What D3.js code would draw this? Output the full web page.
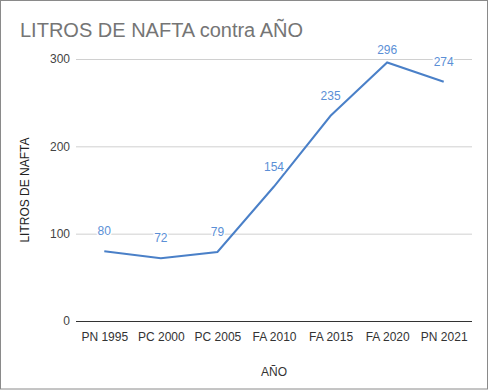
<!DOCTYPE html>
<html>
<head>
<meta charset="utf-8">
<script src="https://cdn.jsdelivr.net/npm/d3@7"></script>
<style>
  body { margin: 0; background: #fff; }
  text { font-family: Arial, "Liberation Sans", sans-serif; }
</style>
</head>
<body>
<div id="chart"></div>
<script>
// Data
var categories = ["PN 1995", "PC 2000", "PC 2005", "FA 2010", "FA 2015", "FA 2020", "PN 2021"];
var litros = [80, 72, 79, 154, 235, 296, 274];
var yTicks = [0, 100, 200, 300];

var W = 490, H = 391;
var margin = {top: 59, right: 18, bottom: 70, left: 76},
    width = W - margin.left - margin.right,
    height = H - margin.top - margin.bottom;

var root = d3.select("#chart").append("svg")
    .attr("width", W)
    .attr("height", H);

// outer frame
root.append("rect")
    .attr("x", 0.5).attr("y", 0.5)
    .attr("width", 487).attr("height", 388.5)
    .attr("fill", "#fff")
    .attr("stroke", "#8a8a8a");

// title
root.append("text")
    .attr("x", 20)
    .attr("y", 37)
    .style("font-size", "20px")
    .style("fill", "#757575")
    .text("LITROS DE NAFTA contra AÑO");

var svg = root.append("g")
    .attr("transform", "translate(" + margin.left + "," + margin.top + ")");

var x = d3.scalePoint()
    .domain(categories)
    .range([0, width])
    .padding(0.5);

var y = d3.scaleLinear()
    .domain([0, 300])
    .range([height, 0]);

// gridlines + y tick labels
var yAxis = svg.append("g")
    .call(d3.axisLeft(y).tickValues(yTicks).tickSize(-width).tickPadding(6));
yAxis.select(".domain").remove();
yAxis.selectAll(".tick line")
    .attr("stroke", function(d) { return d === 0 ? "#333" : "#d0d0d0"; });
yAxis.selectAll(".tick text")
    .style("font-size", "12px")
    .style("fill", "#444")
    .style("font-family", "Arial, 'Liberation Sans', sans-serif");

// x axis labels
var xAxis = svg.append("g")
    .attr("transform", "translate(0," + height + ")")
    .call(d3.axisBottom(x).tickSize(0).tickPadding(11));
xAxis.select(".domain").remove();
xAxis.selectAll(".tick text")
    .style("font-size", "12px")
    .style("fill", "#333")
    .style("font-family", "Arial, 'Liberation Sans', sans-serif");

// line
var line = d3.line()
    .x(function(d, i) { return x(categories[i]); })
    .y(function(d) { return y(d); });

svg.append("path")
    .datum(litros)
    .attr("fill", "none")
    .attr("stroke", "#4a80c8")
    .attr("stroke-width", 2)
    .attr("d", line);

// data labels
svg.selectAll(".lbl")
    .data(litros)
  .enter().append("text")
    .attr("class", "lbl")
    .attr("x", function(d, i) { return x(categories[i]); })
    .attr("y", function(d) { return Math.max(y(d) - 16, -5); })
    .attr("text-anchor", "middle")
    .style("font-size", "12px")
    .style("fill", "#5b8fd6")
    .style("paint-order", "stroke")
    .style("stroke", "#fff")
    .style("stroke-width", 3)
    .text(function(d) { return d; });

// axis titles
root.append("text")
    .attr("transform", "translate(29," + (margin.top + height / 2) + ") rotate(-90)")
    .attr("text-anchor", "middle")
    .style("font-size", "12px")
    .style("fill", "#222")
    .text("LITROS DE NAFTA");

root.append("text")
    .attr("x", margin.left + width / 2)
    .attr("y", 376)
    .attr("text-anchor", "middle")
    .style("font-size", "12px")
    .style("fill", "#333")
    .text("AÑO");
</script>
</body>
</html>
